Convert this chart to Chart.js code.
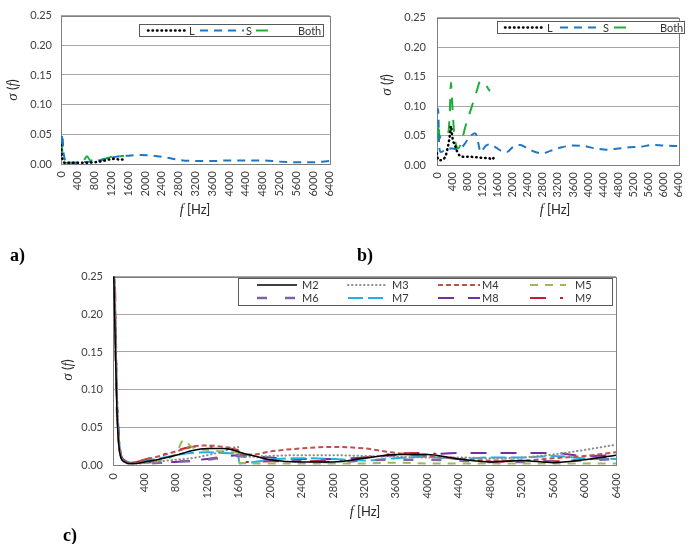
<!DOCTYPE html>
<html>
<head>
<meta charset="utf-8">
<script src="https://cdn.jsdelivr.net/npm/chart.js@4"></script>
<style>
body { margin: 0; background: #fff; width: 699px; height: 544px; position: relative; overflow: hidden; }
.box { position: absolute; }
.tag { position: absolute; font: bold 18px "Liberation Serif", serif; color: #000; line-height: 20px; }
</style>
</head>
<body>
<div class="box" style="left:0;top:0"><canvas id="chartA"></canvas></div>
<div class="box" style="left:350px;top:0"><canvas id="chartB"></canvas></div>
<div class="box" style="left:0;top:260px"><canvas id="chartC"></canvas></div>
<div class="tag" style="left:10px;top:245px">a)</div>
<div class="tag" style="left:357px;top:245px">b)</div>
<div class="tag" style="left:63px;top:525px">c)</div>
<script>
// x ticks shared by all three panels
const freqTicks = [0, 400, 800, 1200, 1600, 2000, 2400, 2800, 3200, 3600, 4000, 4400, 4800, 5200, 5600, 6000, 6400];

// panel a)
const aL_f = [0, 20, 50, 100, 200, 400, 600, 800, 1000, 1100, 1200, 1300, 1400, 1500];
const aL_v = [0.032, 0.015, 0.005, 0.002, 0.002, 0.002, 0.002, 0.003, 0.005, 0.007, 0.008, 0.009, 0.007, 0.008];
const aS_f = [0, 30, 60, 100, 150, 300, 500, 700, 900, 1100, 1300, 1600, 1900, 2200, 2500, 2800, 3200, 3600, 4000, 4400, 4800, 5200, 5600, 6000, 6400];
const aS_v = [0.01, 0.05, 0.02, 0.006, 0.003, 0.002, 0.003, 0.004, 0.006, 0.009, 0.012, 0.014, 0.015, 0.014, 0.011, 0.007, 0.005, 0.005, 0.006, 0.006, 0.006, 0.004, 0.003, 0.003, 0.005];
const aB_f = [0, 20, 40, 70, 120, 250, 400, 500, 560, 620, 700, 850, 1000, 1100, 1200, 1300, 1400, 1500];
const aB_v = [0.035, 0.03, 0.015, 0.005, 0.002, 0.002, 0.002, 0.004, 0.008, 0.013, 0.006, 0.006, 0.008, 0.01, 0.012, 0.013, 0.013, 0.014];

// panel b)
const bL_f = [0, 20, 50, 100, 150, 200, 250, 300, 340, 370, 400, 430, 470, 520, 600, 700, 800, 900, 1000, 1100, 1200, 1300, 1400, 1450, 1500];
const bL_v = [0.02, 0.012, 0.008, 0.008, 0.009, 0.012, 0.02, 0.035, 0.05, 0.066, 0.05, 0.04, 0.035, 0.025, 0.016, 0.014, 0.014, 0.014, 0.013, 0.013, 0.012, 0.012, 0.011, 0.009, 0.012];
const bS_f = [0, 30, 60, 100, 200, 300, 400, 500, 600, 700, 800, 900, 1000, 1050, 1100, 1150, 1200, 1300, 1400, 1550, 1700, 1850, 2000, 2200, 2400, 2600, 2800, 3000, 3300, 3600, 3900, 4200, 4500, 4800, 5100, 5400, 5700, 6000, 6400];
const bS_v = [0.09, 0.095, 0.03, 0.022, 0.025, 0.028, 0.028, 0.027, 0.028, 0.033, 0.042, 0.05, 0.054, 0.05, 0.035, 0.022, 0.025, 0.033, 0.035, 0.03, 0.024, 0.022, 0.03, 0.034, 0.028, 0.022, 0.02, 0.024, 0.03, 0.033, 0.032, 0.028, 0.026, 0.028, 0.03, 0.031, 0.034, 0.033, 0.032];
const bB_f = [0, 20, 40, 70, 100, 150, 200, 250, 300, 340, 370, 390, 420, 460, 500, 560, 650, 750, 850, 950, 1050, 1150, 1250, 1350, 1400];
const bB_v = [0.075, 0.04, 0.07, 0.045, 0.05, 0.048, 0.05, 0.05, 0.055, 0.09, 0.14, 0.12, 0.085, 0.05, 0.035, 0.028, 0.04, 0.065, 0.085, 0.105, 0.125, 0.143, 0.14, 0.13, 0.125];

// panel c) - all series share the same frequencies
const cF = [0, 25, 50, 75, 100, 150, 200, 300, 400, 600, 800, 900, 1000, 1200, 1400, 1590, 1610, 1800, 2000, 2400, 2800, 3200, 3600, 4000, 4400, 4800, 5200, 5600, 6000, 6400];
const cM2 = [0.3, 0.18, 0.07, 0.025, 0.01, 0.004, 0.002, 0.002, 0.004, 0.008, 0.013, 0.016, 0.019, 0.022, 0.022, 0.018, 0.017, 0.012, 0.007, 0.004, 0.004, 0.009, 0.014, 0.014, 0.008, 0.004, 0.006, 0.003, 0.007, 0.013];
const cM3 = [0.3, 0.2, 0.08, 0.03, 0.012, 0.004, 0.002, 0.002, 0.003, 0.005, 0.007, 0.008, 0.009, 0.013, 0.018, 0.024, 0.011, 0.011, 0.012, 0.013, 0.013, 0.012, 0.011, 0.01, 0.01, 0.009, 0.01, 0.014, 0.02, 0.027];
const cM4 = [0.3, 0.22, 0.09, 0.03, 0.012, 0.004, 0.003, 0.004, 0.007, 0.012, 0.018, 0.021, 0.024, 0.026, 0.024, 0.018, 0.014, 0.014, 0.018, 0.022, 0.024, 0.022, 0.016, 0.012, 0.008, 0.006, 0.006, 0.009, 0.012, 0.017];
const cM5 = [0.3, 0.2, 0.08, 0.03, 0.01, 0.004, 0.002, 0.002, 0.003, 0.006, 0.015, 0.033, 0.024, 0.02, 0.018, 0.016, 0.003, 0.002, 0.002, 0.002, 0.002, 0.002, 0.003, 0.002, 0.002, 0.002, 0.002, 0.002, 0.002, 0.002];
const cM6 = [0.3, 0.19, 0.075, 0.03, 0.012, 0.005, 0.003, 0.002, 0.002, 0.003, 0.004, 0.005, 0.005, 0.007, 0.01, 0.012, 0.012, 0.008, 0.006, 0.005, 0.004, 0.006, 0.007, 0.007, 0.006, 0.004, 0.004, 0.005, 0.006, 0.008];
const cM7 = [0.3, 0.22, 0.09, 0.035, 0.012, 0.004, 0.003, 0.003, 0.005, 0.009, 0.013, 0.015, 0.016, 0.017, 0.016, 0.014, 0.002, 0.004, 0.007, 0.009, 0.008, 0.006, 0.009, 0.011, 0.008, 0.01, 0.01, 0.012, 0.009, 0.008];
const cM8 = [0.3, 0.2, 0.09, 0.04, 0.015, 0.006, 0.004, 0.003, 0.003, 0.004, 0.004, 0.005, 0.006, 0.008, 0.011, 0.013, 0.013, 0.012, 0.01, 0.008, 0.008, 0.01, 0.013, 0.014, 0.016, 0.016, 0.016, 0.016, 0.012, 0.013];
const cM9 = [0.3, 0.24, 0.1, 0.035, 0.012, 0.004, 0.003, 0.004, 0.007, 0.013, 0.019, 0.022, 0.024, 0.025, 0.022, 0.02, 0.004, 0.004, 0.005, 0.005, 0.006, 0.01, 0.015, 0.016, 0.008, 0.004, 0.006, 0.005, 0.007, 0.012];

const pts = (fs, vs) => fs.map((f, i) => ({ x: f, y: vs[i] }));
const tickFont = { family: 'Lato', size: 11 };

function line(label, fs, vs, color, dash, width, cap) {
    return {
        label: label,
        data: pts(fs, vs),
        borderColor: color,
        borderDash: dash,
        borderWidth: width,
        borderCapStyle: cap || 'butt',
        clip: 0
    };
}

// grey box round the plot area
const framePlugin = {
    id: 'frame',
    beforeDatasetsDraw(chart) {
        const { ctx, chartArea: a } = chart;
        ctx.save();
        ctx.strokeStyle = '#7f7f7f';
        ctx.lineWidth = 1;
        ctx.strokeRect(Math.round(a.left) + 0.5, Math.round(a.top) + 0.5, Math.round(a.right - a.left), Math.round(a.bottom - a.top));
        ctx.restore();
    }
};

// Excel-like legend box drawn inside the plot
const boxLegend = {
    id: 'boxLegend',
    afterDraw(chart, args, o) {
        const ctx = chart.ctx;
        ctx.save();
        ctx.fillStyle = '#fff';
        ctx.fillRect(o.x, o.y, o.w, o.h);
        ctx.strokeStyle = '#595959';
        ctx.lineWidth = 1;
        ctx.strokeRect(o.x + 0.5, o.y + 0.5, o.w, o.h);
        ctx.font = '11px Lato';
        ctx.textBaseline = 'middle';
        chart.data.datasets.forEach((ds, i) => {
            const col = o.cols[i % o.cols.length];
            const y = o.rows[Math.floor(i / o.cols.length)];
            ctx.strokeStyle = ds.borderColor;
            ctx.lineWidth = ds.borderWidth;
            ctx.lineCap = ds.borderCapStyle;
            ctx.setLineDash(ds.borderDash || []);
            ctx.beginPath();
            ctx.moveTo(col[0], y);
            ctx.lineTo(col[1], y);
            ctx.stroke();
            ctx.setLineDash([]);
            ctx.fillStyle = '#333';
            ctx.fillText(ds.label, col[2], y + 0.5);
        });
        ctx.restore();
    }
};

// axis titles with an italic f
function drawParts(ctx, parts, cx, cy) {
    let total = 0;
    parts.forEach(p => { ctx.font = p[1]; p.w = ctx.measureText(p[0]).width; total += p.w; });
    let x = cx - total / 2;
    parts.forEach(p => { ctx.font = p[1]; ctx.fillText(p[0], x, cy); x += p.w; });
}
const axisTitles = {
    id: 'axisTitles',
    afterDraw(chart, args, o) {
        const ctx = chart.ctx;
        ctx.save();
        ctx.fillStyle = '#262626';
        ctx.textBaseline = 'middle';
        drawParts(ctx, [['f', 'italic 14px "Liberation Serif"'], [' [Hz]', '13px Lato']], o.x[0], o.x[1]);
        ctx.translate(o.y[0], o.y[1]);
        ctx.rotate(-Math.PI / 2);
        drawParts(ctx, [['\u03c3', 'italic 15px "Liberation Serif"'], [' (', '13px Lato'], ['f', 'italic 14px "Liberation Serif"'], [')', '13px Lato']], 0, 0);
        ctx.restore();
    }
};

function makeChart(id, w, h, datasets, L) {
    const cv = document.getElementById(id);
    cv.width = w;
    cv.height = h;
    return new Chart(cv, {
        type: 'line',
        data: { datasets: datasets },
        options: {
            responsive: false,
            animation: false,
            layout: { padding: { left: 0, top: L.top, right: L.right, bottom: 0 } },
            elements: { point: { radius: 0 }, line: { cubicInterpolationMode: 'monotone', fill: false } },
            scales: {
                x: {
                    type: 'linear', min: 0, max: 6400,
                    afterFit: s => { s.height = L.xH; },
                    afterBuildTicks: s => { s.ticks = freqTicks.map(v => ({ value: v })); },
                    grid: { display: false, drawTicks: false },
                    border: { display: false },
                    ticks: { autoSkip: false, minRotation: 90, maxRotation: 90, padding: L.xPad, color: '#404040', font: tickFont, callback: v => String(v) }
                },
                y: {
                    min: 0, max: 0.25,
                    afterFit: s => { s.width = L.yW; },
                    grid: { color: '#a6a6a6', drawTicks: false },
                    border: { display: false },
                    ticks: { stepSize: 0.05, padding: L.yPad, color: '#404040', font: tickFont, callback: v => v.toFixed(2) }
                }
            },
            plugins: {
                legend: { display: false },
                tooltip: { enabled: false },
                boxLegend: L.legend,
                axisTitles: L.titles
            }
        },
        plugins: [framePlugin, boxLegend, axisTitles]
    });
}

const dotL = [0.5, 4];

makeChart('chartA', 350, 230, [
    line('L', aL_f, aL_v, '#000000', dotL, 2.5, 'round'),
    line('S', aS_f, aS_v, '#1f77c4', [8, 6], 2),
    line('Both', aB_f, aB_v, '#1fae3a', [12, 8], 2)
], {
    top: 14, right: 19, xH: 66, yW: 61, xPad: 7, yPad: 9,
    legend: { x: 139, y: 24, w: 184, h: 12, rows: [30.5], cols: [[148, 185, 189], [200, 244, 246], [256, 273, 298]] },
    titles: { x: [195, 210], y: [13, 90] }
});

makeChart('chartB', 349, 230, [
    line('L', bL_f, bL_v, '#000000', dotL, 2.5, 'round'),
    line('S', bS_f, bS_v, '#1f77c4', [8, 6], 2),
    line('Both', bB_f, bB_v, '#1fae3a', [12, 10], 2)
], {
    top: 10, right: 10, xH: 65, yW: 87, xPad: 7, yPad: 11,
    legend: { x: 147, y: 21, w: 187, h: 12, rows: [27.5], cols: [[155, 193, 197], [210, 248, 253], [264, 283, 310]] },
    titles: { x: [205, 210], y: [37, 85] }
});

makeChart('chartC', 699, 284, [
    line('M2', cF, cM2, '#000000', [], 1.5),
    line('M3', cF, cM3, '#8c8c8c', [0.5, 3.5], 2, 'round'),
    line('M4', cF, cM4, '#c0504d', [5, 3], 2),
    line('M5', cF, cM5, '#9bbb59', [8, 7], 2),
    line('M6', cF, cM6, '#8064a2', [10, 18], 2.5),
    line('M7', cF, cM7, '#1fb0e6', [15, 5], 2),
    line('M8', cF, cM8, '#7030a0', [16, 14], 2),
    line('M9', cF, cM9, '#c0202d', [16, 14, 3, 14], 2)
], {
    top: 15, right: 83, xH: 79, yW: 113, xPad: 8, yPad: 10,
    legend: { x: 238, y: 18, w: 374, h: 27, rows: [25, 38], cols: [[257, 297, 302], [348, 388, 392], [438, 480, 482], [530, 566, 575]] },
    titles: { x: [365, 252], y: [68, 110] }
});
</script>
</body>
</html>
